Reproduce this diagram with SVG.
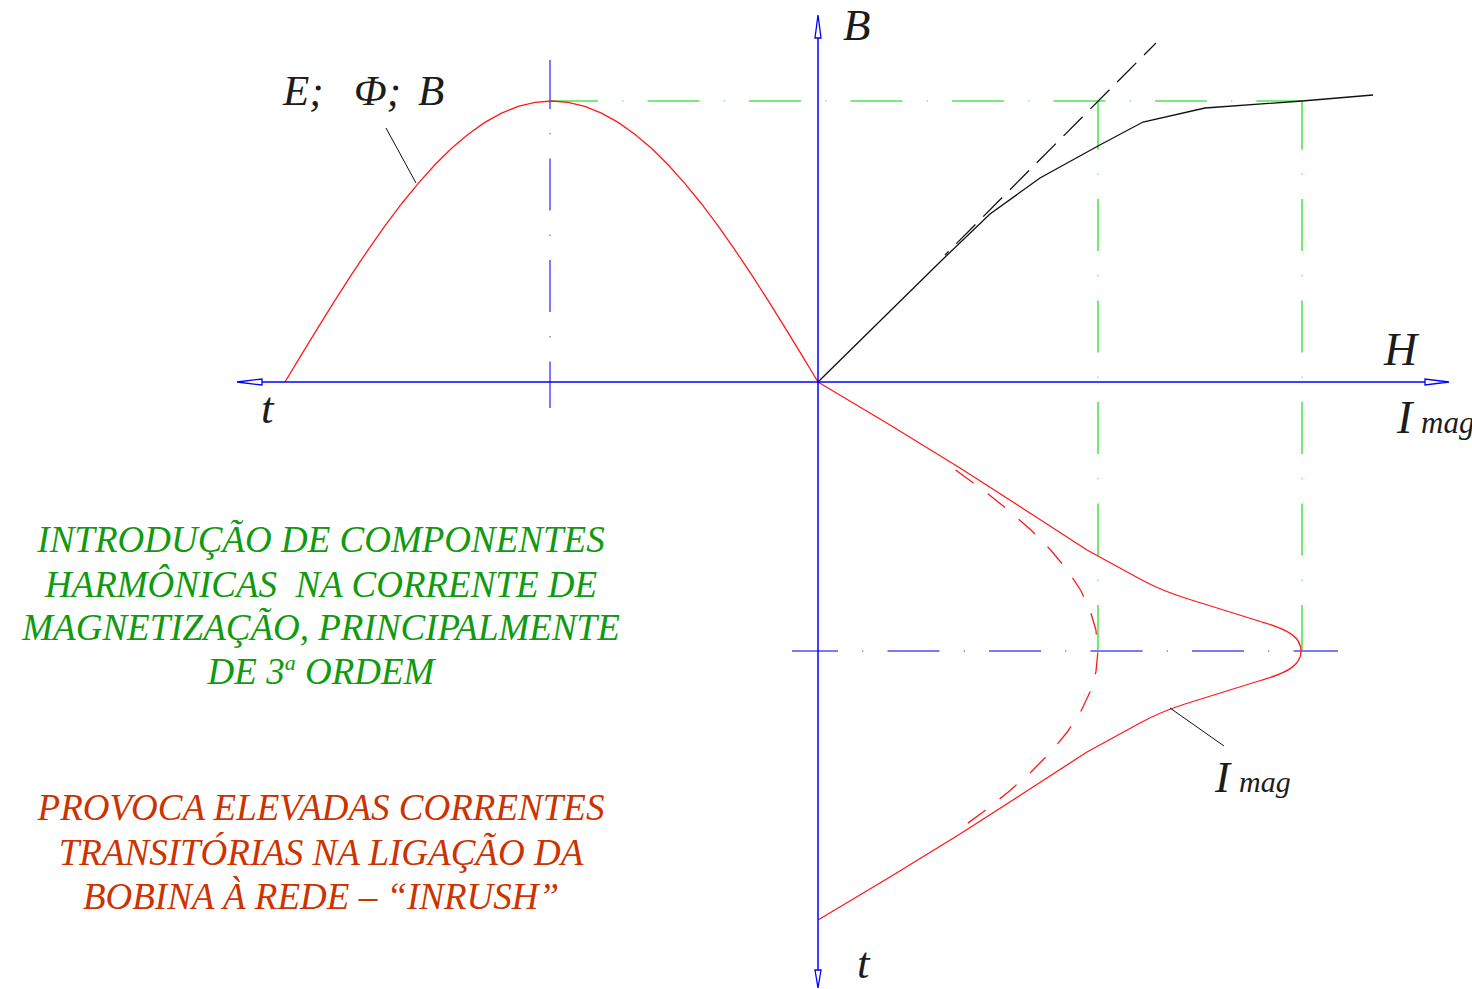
<svg xmlns="http://www.w3.org/2000/svg" width="1472" height="989" viewBox="0 0 1472 989">
<style>
  .axis { stroke: #0000ff; stroke-width: 1.5; fill: none; }
  .arrow { stroke: #0000ff; stroke-width: 1.3; fill: #ffffff; }
  .chainB { stroke: #7a7aff; stroke-width: 2; fill: none; stroke-dasharray: 52 24.25 1 24.25; }
  .chainG { stroke: #50e650; stroke-width: 1.6; fill: none; stroke-dasharray: 52 24.25 1 24.25; }
  .red { stroke: #ff1a1a; stroke-width: 1.3; fill: none; }
  .redDash { stroke: #ff1a1a; stroke-width: 1.3; fill: none; stroke-dasharray: 22 18; }
  .blk { stroke: #111111; stroke-width: 1.3; fill: none; }
  .blkDash { stroke: #111111; stroke-width: 1.3; fill: none; stroke-dasharray: 27 11; stroke-dashoffset: 10; }
  .lead { stroke: #111111; stroke-width: 1; fill: none; }
  .lbl { font-family: "Liberation Serif", "Times New Roman", serif; font-style: italic; fill: #1c1c1c; }
  .note { font-family: "Liberation Serif", "Times New Roman", serif; font-style: italic; font-size: 37px; text-anchor: middle; }
  .green { fill: #0f9a0f; }
  .orange { fill: #cc3300; }
</style>

<g id="connectors">
  <line class="chainB" x1="550" y1="60" x2="550" y2="408" stroke-dashoffset="3"/>
  <line class="chainG" x1="551" y1="101" x2="1302" y2="101" stroke-dashoffset="5"/>
  <line class="chainG" x1="1098" y1="101" x2="1098" y2="651" stroke-dashoffset="3.5"/>
  <line class="chainG" x1="1302" y1="101" x2="1302" y2="651" stroke-dashoffset="3.5"/>
  <line class="chainB" x1="792" y1="651" x2="1338" y2="651" stroke-dashoffset="6"/>

  <polyline class="red" points="285,382 301.66,354.46 318.31,327.18 334.97,300.43 351.63,274.46 368.28,249.54 384.94,225.88 401.59,203.73 418.25,183.3 434.91,164.79 451.56,148.35 468.22,134.19 484.88,122.38 501.53,113.11 518.19,106.4 534.84,102.35 551.5,101 568.16,102.35 584.81,106.4 601.47,113.11 618.13,122.38 634.78,134.19 651.44,148.35 668.09,164.79 684.75,183.3 701.41,203.73 718.06,225.88 734.72,249.54 751.38,274.46 768.03,300.43 784.69,327.18 801.34,354.46 818,382"/>

  <polyline class="blk" points="818,382 940,262 990,214 1040,178 1098,146 1143,122 1205,108 1302,101 1373,95"/>
  <line class="blkDash" x1="1156" y1="43" x2="945" y2="255"/>

  <path class="red" d="M818,382 L890,425 L960,468 L1033,515 L1087,550 L1140,579 Q1160,590 1185,598 L1262,622 C1290,630 1301,638 1301,651 C1301,664 1290,672 1262,680 L1185,704 Q1160,712 1140,723 L1087,752 L1033,787 L960,834 L890,877 L818,920"/>
  <polyline class="redDash" points="955.6,470 983.1,490 1008.3,510 1031,530 1050.7,550 1067.3,570 1080.5,590 1090,610 1095.9,630 1098,651 1095.9,672 1090,692 1080.5,712 1067.3,732 1050.7,752 1031,772 1008.3,792 983.1,812 955.6,832"/>

  <line class="lead" x1="386" y1="128" x2="416" y2="183"/>
  <line class="lead" x1="1170" y1="708" x2="1224" y2="746"/>

  <line class="axis" x1="262" y1="382" x2="1425" y2="382"/>
  <line class="axis" x1="818" y1="38" x2="818" y2="970"/>
  <polygon class="arrow" points="237,382 262,379 262,385"/>
  <polygon class="arrow" points="1449,382 1425,379 1425,385"/>
  <polygon class="arrow" points="818,15 815,38 821,38"/>
  <polygon class="arrow" points="818,988 815,970 821,970"/>
</g>

<g id="label-EPhiB">
  <text class="lbl" font-size="43" y="105"><tspan x="283">E;</tspan><tspan x="354">Φ;</tspan><tspan x="418">B</tspan></text>
</g>
<g id="label-B">
  <text class="lbl" font-size="45" x="843" y="40">B</text>
</g>
<g id="label-H">
  <text class="lbl" font-size="46" x="1384" y="365">H</text>
</g>
<g id="label-Imag-axis">
  <text class="lbl" font-size="46" x="1397" y="433">I<tspan font-size="31" x="1421">mag</tspan></text>
</g>
<g id="label-t-left">
  <text class="lbl" font-size="45" x="261" y="423">t</text>
</g>
<g id="label-t-bottom">
  <text class="lbl" font-size="45" x="857" y="978">t</text>
</g>
<g id="label-Imag-curve">
  <text class="lbl" font-size="45" x="1215" y="792">I<tspan font-size="30" x="1239">mag</tspan></text>
</g>

<g id="note-harmonics">
  <text class="note green" x="321" y="552">INTRODUÇÃO DE COMPONENTES</text>
  <text class="note green" x="321" y="597" xml:space="preserve">HARMÔNICAS  NA CORRENTE DE</text>
  <text class="note green" x="321" y="640">MAGNETIZAÇÃO, PRINCIPALMENTE</text>
  <text class="note green" x="321" y="684">DE 3<tspan font-size="22" dy="-14">a</tspan><tspan dy="14"> ORDEM</tspan></text>
</g>

<g id="note-inrush">
  <text class="note orange" x="321" y="820">PROVOCA ELEVADAS CORRENTES</text>
  <text class="note orange" x="321" y="865">TRANSITÓRIAS NA LIGAÇÃO DA</text>
  <text class="note orange" x="321" y="909">BOBINA À REDE – “INRUSH”</text>
</g>
</svg>
